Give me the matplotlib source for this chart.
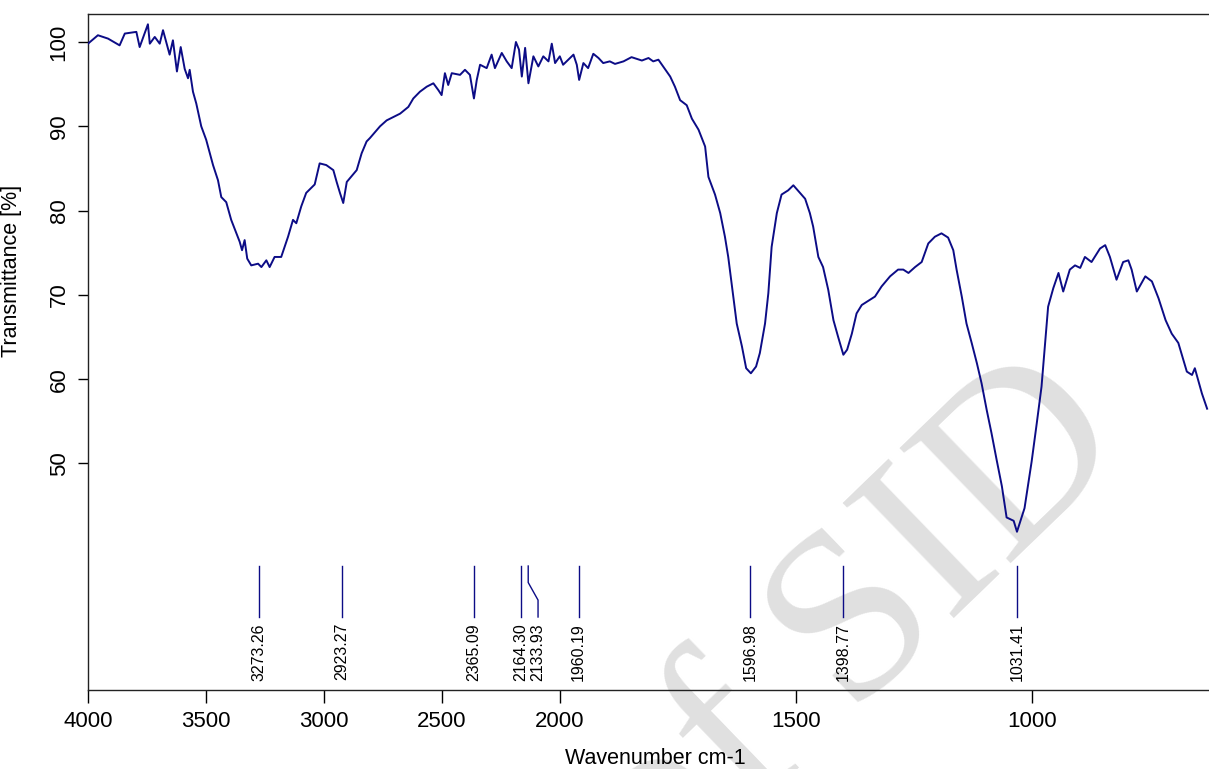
import numpy as np
import matplotlib.pyplot as plt
from matplotlib.transforms import blended_transform_factory

plt.rcParams['font.family'] = ['Liberation Sans', 'DejaVu Sans']

# spectrum (wavenumber cm-1, transmittance %)
wavenumber = [4000, 3958, 3915, 3866, 3844, 3795, 3781, 3746, 3738, 3717, 3696, 3682,
              3654, 3640, 3623, 3607, 3590, 3576, 3569, 3555, 3541, 3520, 3499, 3470,
              3449, 3435, 3414, 3393, 3371, 3357, 3347, 3336, 3325, 3308, 3279, 3265,
              3244, 3230, 3209, 3181, 3152, 3131, 3117, 3096, 3075, 3039, 3018, 2990,
              2960, 2946, 2932, 2918, 2911, 2903, 2861, 2840, 2819, 2805, 2762, 2734,
              2677, 2642, 2621, 2593, 2564, 2536, 2515, 2501, 2487, 2473, 2458, 2423,
              2402, 2381, 2364, 2352, 2338, 2310, 2289, 2275, 2246, 2225, 2204, 2186,
              2173, 2161, 2147, 2133, 2112, 2091, 2070, 2048, 2034, 2020, 2000,
              1993, 1982, 1971, 1964, 1959, 1950, 1940, 1929, 1918, 1908, 1894, 1883,
              1865, 1848, 1826, 1812, 1802, 1791, 1781, 1766, 1756, 1745, 1731, 1720,
              1706, 1692, 1685, 1671, 1660, 1650, 1643, 1636, 1625, 1614, 1605, 1595,
              1584, 1576, 1565, 1558, 1551, 1540, 1530, 1516, 1505, 1491, 1480, 1470,
              1463, 1452, 1442, 1431, 1420, 1410, 1399, 1391, 1381, 1371, 1360, 1343,
              1332, 1318, 1300, 1283, 1272, 1261, 1247, 1233, 1219, 1205, 1191, 1177,
              1166, 1159, 1148, 1138, 1127, 1116, 1106, 1095, 1085, 1074, 1063, 1053,
              1038, 1031, 1015, 1000, 989, 979, 972, 965, 954, 943, 933, 919, 908, 897,
              887, 873, 855, 844, 834, 820, 806, 795, 788, 777, 759, 745, 731, 716,
              703, 689, 671, 660, 654, 639, 628]
transmittance = [99.8, 100.8, 100.4, 99.6, 101.0, 101.2, 99.4, 102.1, 99.8, 100.6, 99.8, 101.4,
                 98.5, 100.2, 96.5, 99.4, 96.8, 95.7, 96.7, 94.1, 92.7, 90.0, 88.4, 85.4,
                 83.6, 81.6, 81.0, 78.9, 77.3, 76.3, 75.3, 76.5, 74.3, 73.5, 73.7, 73.3,
                 74.1, 73.3, 74.5, 74.5, 76.9, 78.9, 78.5, 80.5, 82.1, 83.1, 85.6, 85.4,
                 84.8, 83.4, 82.1, 80.9, 82.1, 83.4, 84.8, 86.8, 88.2, 88.6, 90.0, 90.7,
                 91.5, 92.3, 93.3, 94.1, 94.7, 95.1, 94.3, 93.7, 96.3, 94.9, 96.3, 96.1,
                 96.7, 96.1, 93.3, 95.5, 97.3, 96.9, 98.5, 96.9, 98.7, 97.7, 96.9, 100.0,
                 99.1, 95.9, 99.3, 95.1, 98.3, 97.1, 98.3, 97.7, 99.8, 97.5, 98.3,
                 97.3, 97.9, 98.5, 97.3, 95.5, 97.5, 96.9, 98.6, 98.1, 97.5, 97.7, 97.4,
                 97.7, 98.2, 97.8, 98.1, 97.7, 97.9, 97.1, 95.9, 94.7, 93.1, 92.5, 90.9,
                 89.6, 87.6, 84.0, 81.9, 79.7, 76.9, 74.5, 71.4, 66.6, 63.9, 61.3, 60.7,
                 61.5, 63.1, 66.6, 70.2, 75.7, 79.7, 81.9, 82.4, 83.0, 82.1, 81.4, 79.7,
                 78.1, 74.5, 73.3, 70.6, 67.0, 65.0, 62.9, 63.5, 65.4, 67.8, 68.8, 69.4,
                 69.8, 71.0, 72.2, 73.0, 73.0, 72.6, 73.3, 73.9, 76.1, 76.9, 77.3, 76.8,
                 75.3, 73.0, 69.8, 66.6, 64.3, 61.9, 59.5, 56.3, 53.6, 50.4, 47.3, 43.6,
                 43.2, 41.9, 44.7, 50.2, 54.8, 59.1, 63.9, 68.6, 70.8, 72.6, 70.4, 73.0, 73.5, 73.2,
                 74.5, 73.9, 75.5, 75.9, 74.5, 71.8, 73.9, 74.1, 73.0, 70.4, 72.2, 71.6, 69.6, 67.0,
                 65.4, 64.3, 60.9, 60.5, 61.3, 58.3, 56.5]

peak_positions = [3273.26, 2923.27, 2365.09, 2164.30, 2133.93, 1960.19, 1596.98, 1398.77, 1031.41]
peak_labels = ['%.2f' % p for p in peak_positions]
x_ticks = [4000, 3500, 3000, 2500, 2000, 1500, 1000]
y_ticks = [50, 60, 70, 80, 90, 100]

LINE = '#0c0c86'


# axis is stretched by 2 below 2000 cm-1
def fwd(x):
    x = np.asarray(x, dtype=float)
    return np.where(x >= 2000, x, 2000 - (2000 - x) * 2.0)


def inv(u):
    u = np.asarray(u, dtype=float)
    return np.where(u >= 2000, u, 2000 - (2000 - u) / 2.0)


fig = plt.figure(figsize=(12.09, 7.69), dpi=100)
ax = fig.add_axes([88 / 1209, 79 / 769, 1 - 88 / 1209, 676 / 769])
ax.set_xscale('function', functions=(fwd, inv))
ax.set_xlim(4000, 624)
ax.set_ylim(23.13, 103.32)

ax.plot(wavenumber, transmittance, color=LINE, lw=1.4, zorder=3)

ax.set_xticks(x_ticks)
ax.set_xticklabels([str(t) for t in x_ticks])
ax.set_yticks(y_ticks)
ax.set_yticklabels([str(t) for t in y_ticks], rotation=90, va='center')
ax.minorticks_off()
ax.tick_params(axis='x', length=9.4, width=1, pad=6, labelsize=16)
ax.tick_params(axis='y', length=7.2, width=1, pad=6, labelsize=16)
for s in ['left', 'bottom', 'top']:
    ax.spines[s].set_linewidth(1)
    ax.spines[s].set_color('#222222')
ax.spines['right'].set_visible(False)

ax.set_xlabel('Wavenumber cm-1', fontsize=15.5)
ax.set_ylabel('Transmittance [%]', fontsize=15.5)
ax.xaxis.set_label_coords(0.506, -0.086)
ax.yaxis.set_label_coords(-0.059, 0.62)

# peak pick marks at the bottom
trans = blended_transform_factory(ax.transData, ax.transAxes)
prev_px = None
for pos, lab in zip(peak_positions, peak_labels):
    px = ax.transData.transform((pos, 50))[0]
    lab_px = px
    if prev_px is not None and lab_px - prev_px < 16:
        lab_px = prev_px + 17
    lab_x = float(ax.transData.inverted().transform((lab_px, 50))[0])
    ax.plot([pos, pos, lab_x, lab_x], [0.1834, 0.159, 0.133, 0.108],
            color=LINE, lw=1, transform=trans, zorder=3)
    ax.text(lab_x, 0.099, lab, rotation=90, ha='center', va='top',
            fontsize=11.5, transform=trans)
    prev_px = lab_px

# watermark
ax.text(0.708, 0.18, 'of SID', transform=fig.transFigure, rotation=44,
        ha='center', va='center', fontsize=175, family='Liberation Serif',
        color='#e0e0e0', zorder=0, clip_on=False)

fig.savefig('out.png', dpi=100)
